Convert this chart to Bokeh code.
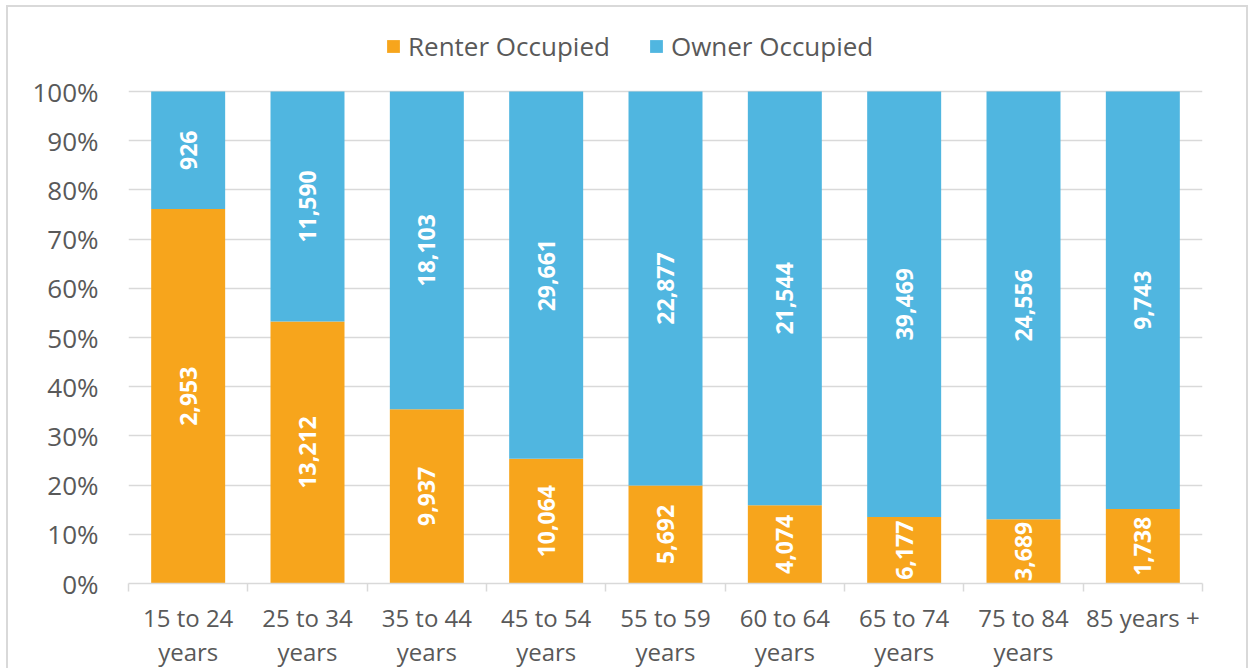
import numpy as np
from bokeh.plotting import figure
from bokeh.models import ColumnDataSource, Range1d, FixedTicker, NumeralTickFormatter, Legend, LegendItem
from bokeh.core.properties import value
from bokeh.embed import file_html
from bokeh.resources import INLINE

categories = ["15 to 24\nyears", "25 to 34\nyears", "35 to 44\nyears", "45 to 54\nyears",
              "55 to 59\nyears", "60 to 64\nyears", "65 to 74\nyears", "75 to 84\nyears", "85 years +"]
renter = [2953, 13212, 9937, 10064, 5692, 4074, 6177, 3689, 1738]
owner = [926, 11590, 18103, 29661, 22877, 21544, 39469, 24556, 9743]

ORANGE = "#F7A51C"
BLUE = "#50B6E0"
GREY = "#595959"
LINE = "#D9D9D9"
FONT = "Open Sans"

x = list(range(1, len(categories) + 1))
tot = np.array(renter, float) + np.array(owner, float)
r_pct = np.array(renter) / tot
src = ColumnDataSource(dict(
    x=x,
    r=r_pct,
    one=[1.0] * len(x),
    r_mid=r_pct / 2,
    o_mid=(r_pct + 1) / 2,
    r_lab=[f"{v:,}" for v in renter],
    o_lab=[f"{v:,}" for v in owner],
))

# frame extends above 100% to leave room for the legend (axis has no line)
FRAME_H = 563
PX_PER_UNIT = 492
p = figure(output_backend="svg", toolbar_location=None,
           x_range=Range1d(0.5, len(x) + 0.5), y_range=Range1d(0, FRAME_H / PX_PER_UNIT),
           frame_width=1074, frame_height=FRAME_H)
p.min_border_left = 120
p.min_border_right = 44
p.min_border_top = 13
p.min_border_bottom = 85
p.outline_line_color = None
p.styles = {"margin-left": "6px", "margin-top": "5px", "border": "2px solid #D9D9D9"}

r1 = p.vbar(x="x", width=0.62, bottom=0, top="r", source=src, fill_color=ORANGE, line_color=None)
r2 = p.vbar(x="x", width=0.62, bottom="r", top="one", source=src, fill_color=BLUE, line_color=None)

for col, ycol in (("r_lab", "r_mid"), ("o_lab", "o_mid")):
    p.text(x="x", y=ycol, text=col, source=src, angle=np.pi / 2,
           text_align="center", text_baseline="middle", text_color="white",
           text_font=value(FONT), text_font_style="bold", text_font_size="23px")

p.yaxis.ticker = FixedTicker(ticks=[i / 10 for i in range(11)])
p.yaxis.formatter = NumeralTickFormatter(format="0%")
p.yaxis.axis_line_color = None
p.yaxis.major_tick_line_color = None
p.yaxis.minor_tick_line_color = None
p.yaxis.major_label_text_font = FONT
p.yaxis.major_label_text_font_size = "26px"
p.yaxis.major_label_text_color = GREY
p.yaxis.major_label_standoff = 24

p.xaxis.ticker = FixedTicker(ticks=x, minor_ticks=[i + 0.5 for i in range(len(x) + 1)])
p.xaxis.major_label_overrides = {i: c for i, c in zip(x, categories)}
p.xaxis.axis_line_color = LINE
p.xaxis.axis_line_width = 1.5
p.xaxis.major_tick_line_color = None
p.xaxis.minor_tick_line_color = LINE
p.xaxis.minor_tick_line_width = 1.5
p.xaxis.minor_tick_out = 8
p.xaxis.minor_tick_in = 0
p.xaxis.major_label_text_font = FONT
p.xaxis.major_label_text_font_size = "24px"
p.xaxis.major_label_text_color = GREY
p.xaxis.major_label_standoff = 9
p.xaxis.major_label_text_line_height = 1.05

p.xgrid.grid_line_color = None
p.ygrid.grid_line_color = LINE
p.ygrid.grid_line_width = 1.5

legend = Legend(items=[LegendItem(label="Renter Occupied", renderers=[r1]),
                       LegendItem(label="Owner Occupied", renderers=[r2])],
                orientation="horizontal", location=(257, 519),
                border_line_color=None, background_fill_alpha=0,
                label_text_font=FONT, label_text_font_size="26px", label_text_color=GREY,
                glyph_width=16, glyph_height=16, spacing=38, label_standoff=7,
                padding=0, margin=0)
p.add_layout(legend)

open("out.html", "w").write(file_html(p, INLINE))
